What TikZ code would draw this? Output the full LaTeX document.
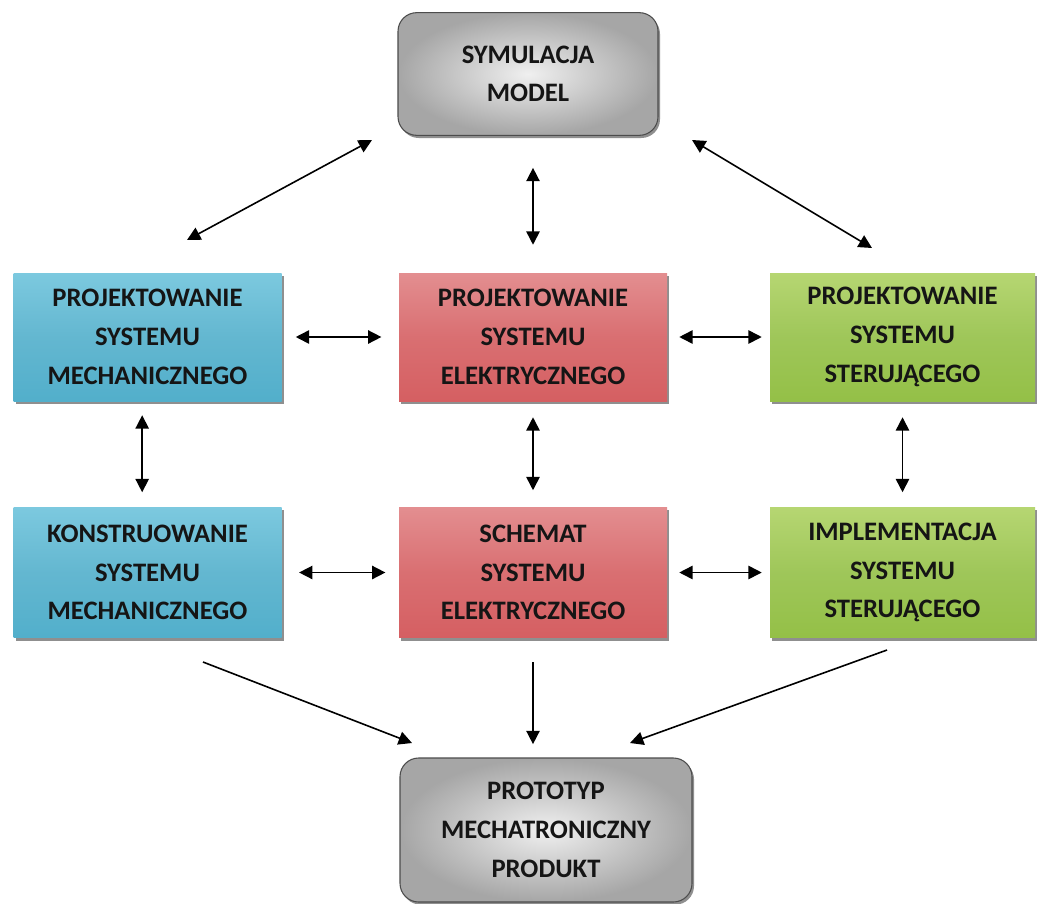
\documentclass[tikz,border=0pt]{standalone}
\usepackage{fontspec}
\setmainfont{Carlito}
\usetikzlibrary{arrows.meta,shadows,calc}
\definecolor{txt}{HTML}{151515}
\definecolor{bluetop}{HTML}{7CC9DF}
\definecolor{bluebot}{HTML}{52AFCB}
\definecolor{redtop}{HTML}{E38E90}
\definecolor{redbot}{HTML}{D55F62}
\definecolor{greentop}{HTML}{B6D672}
\definecolor{greenbot}{HTML}{94C047}
\tikzset{
  boxbase/.style={rectangle, align=center, text=txt, font=\fontsize{20}{29}\selectfont\bfseries,
    inner sep=0pt, draw=none,
    drop shadow={shadow xshift=1.5pt, shadow yshift=-2pt, opacity=0.55, fill=black!80}},
  bluebox/.style={boxbase, top color=bluetop, bottom color=bluebot, middle color=bluebot!90!white},
  redbox/.style={boxbase, top color=redtop, bottom color=redbot, middle color=redbot!90!white},
  greenbox/.style={boxbase, top color=greentop, bottom color=greenbot, middle color=greenbot!90!white},
  graybox/.style={boxbase, rounded corners=14pt, draw=gray!60!black, line width=0.8pt,
    inner color=gray!12, outer color=gray!70},
  dbl/.style={{Triangle[length=10pt,width=10pt]}-{Triangle[length=10pt,width=10pt]}, line width=1.2pt, black},
  sgl/.style={-{Triangle[length=10pt,width=10pt]}, line width=1.2pt, black},
}
\begin{document}
\begin{tikzpicture}[x=0.75pt,y=-0.75pt]
\useasboundingbox (0,0) rectangle (1037,903);
\fill[white] (0,0) rectangle (1037,903);

\node[graybox, minimum width=195pt, minimum height=92pt] (top) at (528,74) {SYMULACJA\\MODEL};
\node[graybox, minimum width=219pt, minimum height=108pt] (bot) at (546,830) {PROTOTYP\\MECHATRONICZNY\\PRODUKT};

\node[bluebox, minimum width=201pt, minimum height=96pt] (b1) at (147.5,337) {PROJEKTOWANIE\\SYSTEMU\\MECHANICZNEGO};
\node[redbox, minimum width=201pt, minimum height=96pt] (r1) at (533,337) {PROJEKTOWANIE\\SYSTEMU\\ELEKTRYCZNEGO};
\node[greenbox, minimum width=198.75pt, minimum height=96pt] (g1) at (902.5,337) {PROJEKTOWANIE\\SYSTEMU\\STERUJĄCEGO};

\node[bluebox, minimum width=201pt, minimum height=98pt] (b2) at (147.5,572.5) {KONSTRUOWANIE\\SYSTEMU\\MECHANICZNEGO};
\node[redbox, minimum width=201pt, minimum height=98pt] (r2) at (533,572.5) {SCHEMAT\\SYSTEMU\\ELEKTRYCZNEGO};
\node[greenbox, minimum width=198.75pt, minimum height=98pt] (g2) at (902.5,572.5) {IMPLEMENTACJA\\SYSTEMU\\STERUJĄCEGO};

% free ends of diagonal connectors
\coordinate (tb1) at (372,140);
\coordinate (tb2) at (187,240);
\coordinate (tg1) at (692,140);
\coordinate (tg2) at (872,248);
\coordinate (bb1) at (203,662);
\coordinate (bb2) at (412,743);
\coordinate (gb1) at (887,650);
\coordinate (gb2) at (630,743);

\draw[dbl] (tb1) -- (tb2);
\draw[dbl] (tg1) -- (tg2);
\draw[sgl] (bb1) -- (bb2);
\draw[sgl] (gb1) -- (gb2);

\draw[dbl, shorten <=24pt, shorten >=21pt] (top.south -| r1.north) -- (r1.north);

\draw[dbl, shorten <=10.5pt, shorten >=13pt] (b1.east) -- (r1.west);
\draw[dbl, shorten <=9pt, shorten >=6pt] (r1.east) -- (g1.west);
\draw[dbl, shorten <=13pt, shorten >=10pt] (b2.east) -- (r2.west);
\draw[dbl, shorten <=9pt, shorten >=6pt] (r2.east) -- (g2.west);

\draw[dbl, shorten <=10.5pt, shorten >=11pt] ([xshift=-4pt]b1.south) -- ([xshift=-4pt]b2.north);
\draw[dbl, shorten <=12pt, shorten >=12.5pt] (r1.south) -- (r2.south |- r2.north);
\draw[dbl, shorten <=12pt, shorten >=11pt] (g1.south) -- (g2.north);

\draw[sgl, shorten <=18pt, shorten >=10pt] (r2.south) -- (r2.south |- bot.north);
\end{tikzpicture}
\end{document}
